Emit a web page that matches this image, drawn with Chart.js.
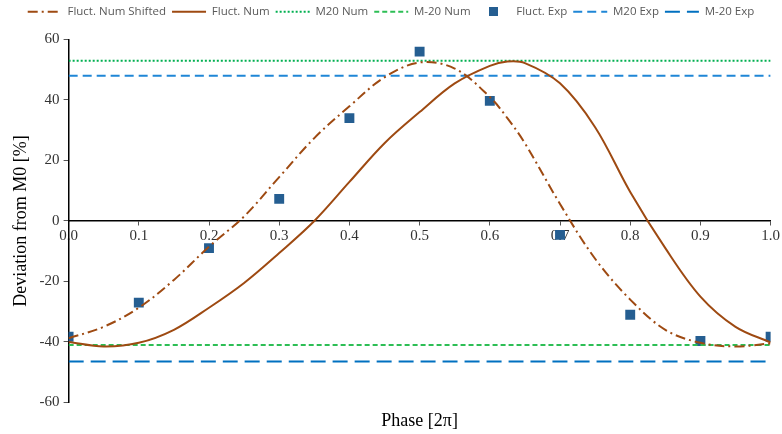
<!DOCTYPE html>
<html>
<head>
<meta charset="utf-8">
<script src="https://cdn.jsdelivr.net/npm/chart.js@4/dist/chart.umd.min.js"></script>
<style>
  html, body { margin: 0; padding: 0; background: #fff; }
  #wrap { width: 782px; height: 434px; }
</style>
</head>
<body>
<div id="wrap"><canvas id="myChart"></canvas></div>
<script>
// phase values for the computed curves
const phase = [0, 0.05, 0.1, 0.15, 0.2, 0.25, 0.3, 0.35, 0.4, 0.45, 0.5, 0.55, 0.6, 0.625, 0.65, 0.7, 0.75, 0.8, 0.85, 0.9, 0.95, 1.0]
const fluctNum = [-40, -41.5, -40.3, -36, -28.7, -20.5, -10.6, 0, 12.9, 25.7, 36, 45.5, 51.3, 52.7, 52.2, 45.5, 31, 9.6, -9, -25, -35, -40.2]
const fluctNumShifted = [-38.8, -35, -28.7, -19.5, -8.5, 1.5, 14.5, 27.4, 37.9, 47.5, 52.4, 50.4, 41, 34, 25.7, 5.6, -12.5, -26, -36, -40.3, -41.5, -40.5]

// experiment points
const expPhase = [0, 0.1, 0.2, 0.3, 0.4, 0.5, 0.6, 0.7, 0.8, 0.9, 1.0]
const fluctExp = [-38.3, -27, -9, 7.3, 34, 56, 39.7, -4.6, -31, -39.7, -38.3]

// constant levels
const m20Num = 53
const mm20Num = -41
const m20Exp = 48
const mm20Exp = -46.5

const xTicks = [0, 0.1, 0.2, 0.3, 0.4, 0.5, 0.6, 0.7, 0.8, 0.9, 1.0]
const yTicks = [-60, -40, -20, 0, 20, 40, 60]

const brown = '#9E4A12'
const serif = "'Liberation Serif', 'DejaVu Serif', serif"

function toPoints(xs, ys) {
  return xs.map(function (x, i) { return { x: x, y: ys[i] } })
}

function level(v) {
  return [{ x: xTicks[0], y: v }, { x: xTicks[xTicks.length - 1], y: v }]
}

// little square used for the legend of the experiment points
var sq = document.createElement('canvas')
sq.width = 9
sq.height = 9
var sctx = sq.getContext('2d')
sctx.fillStyle = '#255E91'
sctx.fillRect(0, 0, 9, 9)

// push the plot a bit further below the legend
var legendGap = {
  id: 'legendGap',
  beforeInit: function (chart) {
    var fit = chart.legend.fit
    chart.legend.fit = function () {
      fit.bind(chart.legend)()
      this.height += 12
    }
  }
}

var lineBase = { type: 'line', pointRadius: 0, pointStyle: 'line', fill: false, borderWidth: 2, tension: 0.35 }

var data = {
  datasets: [
    Object.assign({}, lineBase, {
      label: 'Fluct. Num Shifted',
      data: toPoints(phase, fluctNumShifted),
      borderColor: brown,
      backgroundColor: brown,
      borderDash: [10, 4, 2, 4]
    }),
    Object.assign({}, lineBase, {
      label: 'Fluct. Num',
      data: toPoints(phase, fluctNum),
      borderColor: brown,
      backgroundColor: brown
    }),
    Object.assign({}, lineBase, {
      label: 'M20 Num',
      data: level(m20Num),
      borderColor: '#00B050',
      backgroundColor: '#00B050',
      borderDash: [2, 2]
    }),
    Object.assign({}, lineBase, {
      label: 'M-20 Num',
      data: level(mm20Num),
      borderColor: '#2DBE55',
      backgroundColor: '#2DBE55',
      borderDash: [5, 3]
    }),
    {
      type: 'scatter',
      label: 'Fluct. Exp',
      data: toPoints(expPhase, fluctExp),
      pointStyle: 'rect',
      pointRadius: 7,
      pointHoverRadius: 7,
      backgroundColor: '#255E91',
      borderColor: '#255E91',
      borderWidth: 0
    },
    Object.assign({}, lineBase, {
      label: 'M20 Exp',
      data: level(m20Exp),
      borderColor: '#1F86D6',
      backgroundColor: '#1F86D6',
      borderDash: [9, 5]
    }),
    Object.assign({}, lineBase, {
      label: 'M-20 Exp',
      data: level(mm20Exp),
      borderColor: '#0070C0',
      backgroundColor: '#0070C0',
      borderDash: [15, 7]
    })
  ]
}

var ctx = document.getElementById('myChart')

var lineChart = new Chart(ctx, {
  type: 'line',
  data: data,
  plugins: [legendGap],
  options: {
    responsive: true,
    maintainAspectRatio: false,
    animation: false,
    layout: { padding: { left: 10, right: 10, top: 0, bottom: 2 } },
    plugins: {
      tooltip: { enabled: false },
      legend: {
        position: 'top',
        labels: {
          usePointStyle: true,
          pointStyleWidth: 34,
          boxHeight: 11,
          padding: 6,
          color: '#595959',
          font: { family: "'Open Sans', sans-serif", size: 11.5 },
          generateLabels: function (chart) {
            var items = Chart.defaults.plugins.legend.labels.generateLabels(chart)
            items.forEach(function (it) {
              var ds = chart.data.datasets[it.datasetIndex]
              if (ds.type === 'scatter') {
                it.pointStyle = sq
              } else {
                it.lineDash = ds.borderDash || []
              }
              it.lineWidth = 2
            })
            return items
          }
        }
      }
    },
    scales: {
      x: {
        type: 'linear',
        min: 0,
        max: 1,
        position: { y: 0 },
        afterBuildTicks: function (axis) {
          axis.ticks = xTicks.map(function (v) { return { value: v } })
        },
        ticks: {
          color: '#333',
          font: { family: serif, size: 15 },
          padding: 2,
          callback: function (v) { return Number(v).toFixed(1) }
        },
        grid: { drawOnChartArea: false, tickLength: 4, color: '#555' },
        border: { color: '#000', width: 1.5 }
      },
      xt: {
        type: 'linear',
        min: 0,
        max: 1,
        position: 'bottom',
        ticks: { display: false },
        grid: { display: false },
        border: { display: false },
        title: {
          display: true,
          text: 'Phase [2π]',
          color: '#000',
          font: { family: serif, size: 18 },
          padding: { top: 0, bottom: 0 }
        }
      },
      y: {
        min: -60,
        max: 60,
        afterBuildTicks: function (axis) {
          axis.ticks = yTicks.map(function (v) { return { value: v } })
        },
        ticks: {
          color: '#333',
          font: { family: serif, size: 15 },
          padding: 4
        },
        grid: { drawOnChartArea: false, tickLength: 5, color: '#555' },
        border: { color: '#000', width: 1.5 },
        title: {
          display: true,
          text: 'Deviation from M0 [%]',
          color: '#000',
          font: { family: serif, size: 18 },
          padding: { top: 0, bottom: 4 }
        }
      }
    }
  }
})
</script>
</body>
</html>
